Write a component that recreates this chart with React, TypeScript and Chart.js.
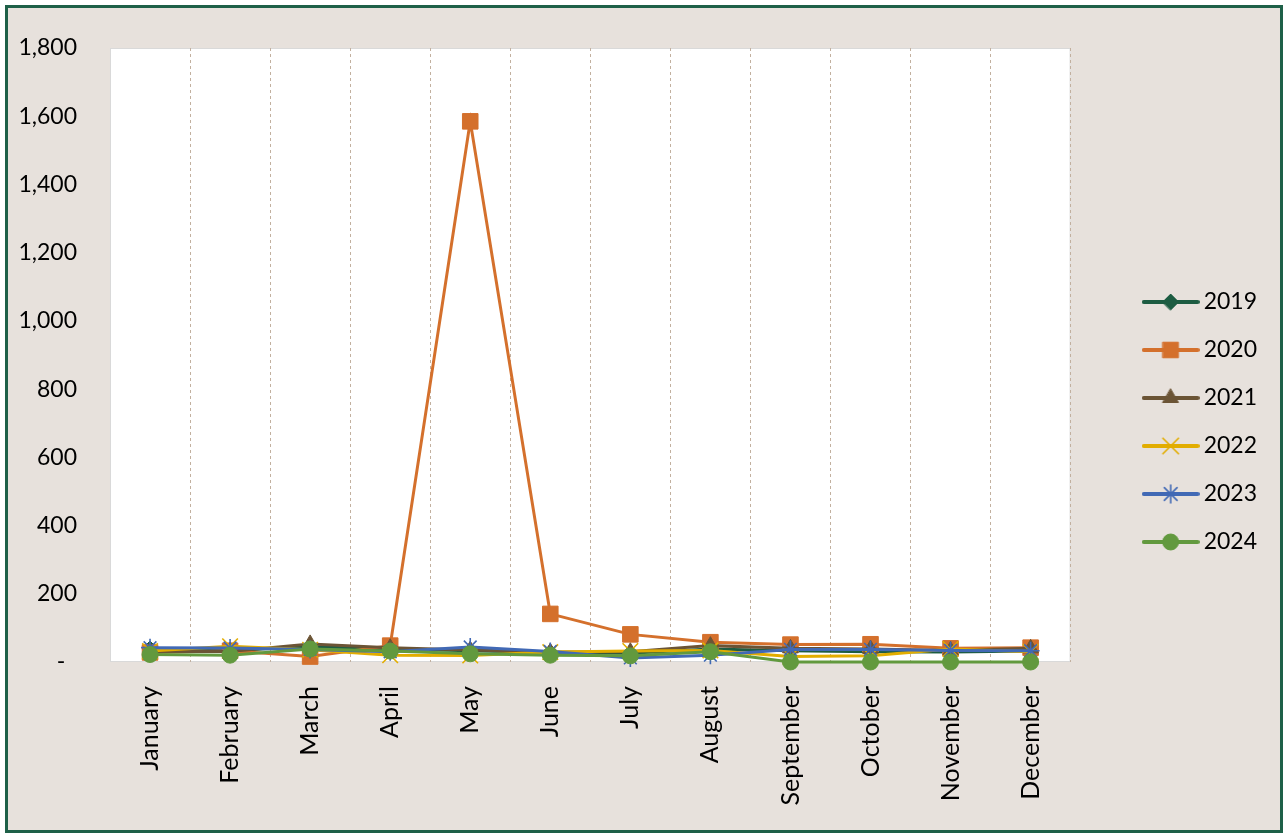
import React, { useEffect, useRef } from "react";
import { Chart, registerables } from "chart.js";
import { drawPoint } from "chart.js/helpers";

Chart.register(...registerables);

const months = ["January", "February", "March", "April", "May", "June", "July", "August", "September", "October", "November", "December"];
const seriesNames = ["2019", "2020", "2021", "2022", "2023", "2024"];
const y2019 = [38, 34, 45, 38, 33, 28, 26, 38, 33, 30, 29, 32];
const y2020 = [28, 33, 16, 48, 1585, 141, 81, 58, 51, 52, 40, 42];
const y2021 = [31, 31, 53, 42, 35, 29, 30, 48, 40, 38, 34, 40];
const y2022 = [32, 46, 36, 20, 19, 29, 32, 34, 16, 18, 38, 30];
const y2023 = [42, 41, 37, 30, 44, 31, 12, 20, 37, 37, 34, 33];
const y2024 = [22, 20, 38, 32, 24, 20, 18, 30, 0, 0, 0, 0];
const yTicks = [0, 200, 400, 600, 800, 1000, 1200, 1400, 1600, 1800];

const seriesValues = [y2019, y2020, y2021, y2022, y2023, y2024];
const colors = ["#1d5c42", "#d4702c", "#6b5435", "#e2ad00", "#4169b5", "#62993e"];
const pointStyles = ["rectRot", "rect", "triangle", "crossRot", "star", "circle"];
const pointRadii = [8, 11, 9, 11, 9, 8];
const pointBorders = [1, 1, 1, 1.6, 1.6, 1];

const FONT = "Lato, 'Open Sans', sans-serif";

function makeLegendIcon(i: number) {
  const c = document.createElement("canvas");
  c.width = 58;
  c.height = 26;
  const ctx = c.getContext("2d")!;
  ctx.strokeStyle = colors[i];
  ctx.fillStyle = colors[i];
  ctx.lineWidth = 4;
  ctx.lineCap = "round";
  ctx.beginPath();
  ctx.moveTo(2, 13);
  ctx.lineTo(56, 13);
  ctx.stroke();
  ctx.lineWidth = pointBorders[i];
  drawPoint(ctx as any, { pointStyle: pointStyles[i] as any, radius: pointRadii[i], rotation: 0, borderWidth: pointBorders[i] } as any, 29, 13);
  return c;
}

const plotBg = {
  id: "plotBg",
  beforeDraw(chart: any) {
    const { ctx, chartArea } = chart;
    ctx.save();
    ctx.fillStyle = "#ffffff";
    ctx.fillRect(chartArea.left, chartArea.top, chartArea.right - chartArea.left, chartArea.bottom - chartArea.top);
    ctx.strokeStyle = "#d9d9d9";
    ctx.lineWidth = 1;
    ctx.strokeRect(chartArea.left + 0.5, chartArea.top + 0.5, chartArea.right - chartArea.left - 1, chartArea.bottom - chartArea.top - 1);
    ctx.restore();
  },
};

export default function App() {
  const ref = useRef<HTMLCanvasElement>(null);
  useEffect(() => {
    const icons = seriesNames.map((_, i) => makeLegendIcon(i));
    const chart = new Chart(ref.current!, {
      type: "line",
      data: {
        labels: months,
        datasets: seriesNames.map((name, i) => ({
          label: name,
          data: seriesValues[i],
          borderColor: colors[i],
          backgroundColor: colors[i],
          borderWidth: 3,
          pointStyle: pointStyles[i] as any,
          pointRadius: pointRadii[i],
          pointHoverRadius: pointRadii[i],
          pointBorderWidth: pointBorders[i],
          pointBackgroundColor: colors[i],
          pointBorderColor: colors[i],
          tension: 0,
          clip: false as any,
          order: seriesNames.length - i,
          xAxisID: "x",
          yAxisID: "y",
        })),
      },
      options: {
        responsive: false,
        animation: false,
        layout: { padding: { top: 6, bottom: 0, left: 0, right: 13 } },
        plugins: {
          tooltip: { enabled: false },
          legend: {
            position: "right",
            align: "center",
            labels: {
              usePointStyle: true,
              pointStyleWidth: 43,
              boxHeight: 23,
              padding: 25,
              color: "#000",
              font: { family: FONT, size: 23 },
              generateLabels: () =>
                seriesNames.map((name, i) => ({
                  text: name,
                  fillStyle: colors[i],
                  strokeStyle: colors[i],
                  lineWidth: 0,
                  pointStyle: icons[i] as any,
                  hidden: false,
                  datasetIndex: i,
                  fontColor: "#000",
                })),
            },
          },
        },
        scales: {
          x: {
            type: "category",
            position: "bottom",
            offset: true,
            grid: {
              display: true,
              offset: true,
              drawTicks: false,
              color: (c: any) => (c.index === 0 || c.index === months.length ? "rgba(0,0,0,0)" : "#c2b09f"),
              lineWidth: 1,
            },
            border: { display: false, dash: [3, 3] },
            ticks: {
              minRotation: 90,
              maxRotation: 90,
              autoSkip: false,
              padding: 24,
              color: "#000",
              font: { family: FONT, size: 25 },
            },
            afterFit: (s: any) => {
              s.height = 168;
            },
          },
          xt: {
            type: "category",
            position: "top",
            display: true,
            grid: { display: false, drawTicks: false },
            border: { display: false },
            ticks: { display: false },
            afterFit: (s: any) => {
              s.height = 34;
            },
          },
          y: {
            type: "linear",
            position: "left",
            min: 0,
            max: 1800,
            afterBuildTicks: (s: any) => {
              s.ticks = yTicks.map((v) => ({ value: v }));
            },
            grid: { display: false, drawTicks: false },
            border: { display: false },
            ticks: {
              padding: 33,
              color: "#000",
              font: { family: FONT, size: 23 },
              callback: (v: any) => (Number(v) === 0 ? "-  " : Number(v).toLocaleString("en-US")),
            },
            afterFit: (s: any) => {
              s.width = 102;
              s.paddingTop = 0;
              s.paddingBottom = 0;
            },
          },
          y2: {
            type: "linear",
            position: "right",
            display: true,
            grid: { display: false, drawTicks: false },
            border: { display: false },
            ticks: { display: false },
            afterFit: (s: any) => {
              s.width = 53.5;
              s.paddingTop = 0;
              s.paddingBottom = 0;
            },
          },
        },
      },
      plugins: [plotBg],
    });
    return () => chart.destroy();
  }, []);

  return (
    <div
      style={{
        position: "absolute",
        left: 5,
        top: 5,
        width: 1278,
        height: 828,
        boxSizing: "border-box",
        border: "3px solid #1e6048",
        background: "#e7e1dc",
      }}
    >
      <canvas ref={ref} width={1272} height={822} style={{ display: "block", width: 1272, height: 822 }} />
    </div>
  );
}
